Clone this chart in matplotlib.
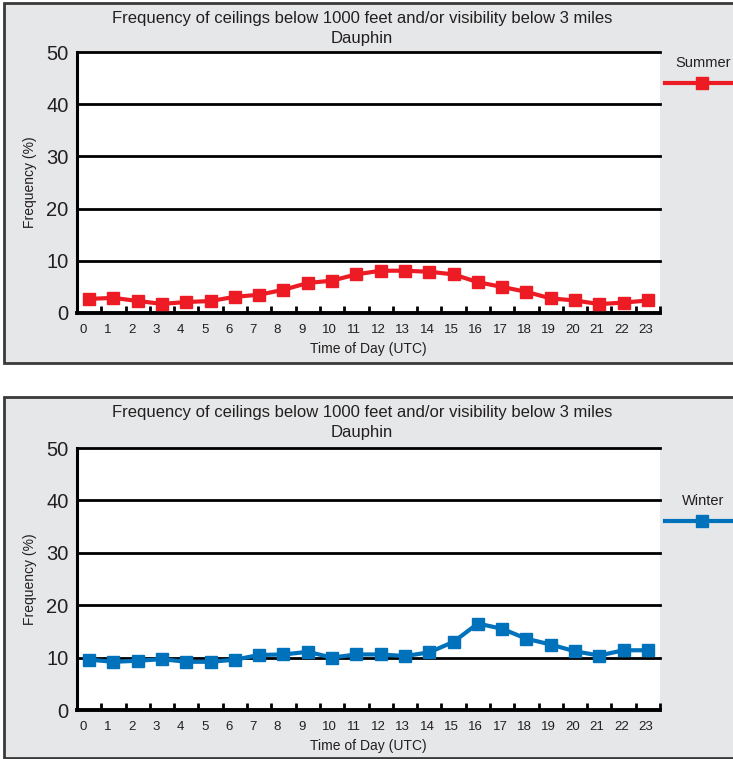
import matplotlib
matplotlib.use("Agg")
import matplotlib.pyplot as plt
from matplotlib.patches import Rectangle
from matplotlib.lines import Line2D
import matplotlib.transforms as mtransforms

plt.rcParams['font.family'] = ['Liberation Sans', 'DejaVu Sans']

hours = list(range(24))
hour_labels = [str(h) for h in hours]
y_ticks = [0, 10, 20, 30, 40, 50]

summer = [2.7, 2.9, 2.3, 1.75, 2.1, 2.3, 3.1, 3.5, 4.45, 5.75, 6.2, 7.4,
          8.1, 8.1, 7.9, 7.4, 5.9, 5.0, 4.05, 2.8, 2.4, 1.7, 2.0, 2.4]
winter = [9.6, 9.2, 9.4, 9.7, 9.2, 9.2, 9.6, 10.5, 10.6, 11.1, 10.0, 10.6,
          10.6, 10.3, 11.0, 13.0, 16.5, 15.5, 13.6, 12.5, 11.2, 10.4, 11.4, 11.4]

title_main = "Frequency of ceilings below 1000 feet and/or visibility below 3 miles"
title_station = "Dauphin"

W, H = 733, 759
fig = plt.figure(figsize=(W / 100, H / 100), dpi=100)
fig.patch.set_facecolor('white')

PANEL_BG = '#e6e7e8'
TEXT = '#231f20'


def fx(px):
    return px / W


def fy(py):
    return 1 - py / H


def draw_panel(top, bottom, ax_top, ax_bottom, values, color, name, legend_y):
    # panel frame behind the axes
    fig.patches.append(Rectangle((fx(4), fy(bottom)), fx(760) - fx(4), fy(top) - fy(bottom),
                                 transform=fig.transFigure, facecolor=PANEL_BG,
                                 edgecolor='#3a3a3a', linewidth=2, zorder=-5))
    ax = fig.add_axes([fx(77), fy(ax_bottom), fx(660) - fx(77), fy(ax_top) - fy(ax_bottom)])
    ax.set_zorder(2)
    ax.set_facecolor('white')
    ax.set_xlim(0, 24)
    ax.set_ylim(0, 50)
    for v in y_ticks[1:]:
        ax.axhline(v, color='black', linewidth=2, zorder=1, clip_on=False)
    ax.plot([h + 0.5 for h in hours], values, color=color, linewidth=3,
            marker='s', markersize=8, zorder=3, clip_on=False)
    for s in ['top', 'right']:
        ax.spines[s].set_visible(False)
    ax.spines['left'].set_linewidth(2.2)
    ax.spines['bottom'].set_linewidth(2.8)
    ax.set_yticks(y_ticks)
    ax.set_yticklabels([str(v) for v in y_ticks], fontsize=14.5, color=TEXT)
    ax.tick_params(axis='y', length=0, pad=6)
    ax.set_xticks(list(range(25)))
    ax.set_xticklabels(hour_labels + [''], fontsize=9.5, color=TEXT, ha='left')
    ax.tick_params(axis='x', direction='in', length=5, width=2, pad=8)
    offset = mtransforms.ScaledTranslation(2.5 / 100, 0, fig.dpi_scale_trans)
    for lbl in ax.get_xticklabels():
        lbl.set_transform(lbl.get_transform() + offset)
    ax.set_xlabel('Time of Day (UTC)', fontsize=10, color=TEXT, labelpad=4)
    ax.set_ylabel('Frequency (%)', fontsize=10, color=TEXT)
    ax.yaxis.set_label_coords(fx(37), 0.5,
                              transform=mtransforms.blended_transform_factory(fig.transFigure, ax.transAxes))
    fig.text(fx(362), fy(top + 16), title_main, ha='center', va='center',
             fontsize=12, color=TEXT)
    fig.text(fx(362), fy(top + 35), title_station, ha='center', va='center',
             fontsize=12, color=TEXT)
    # legend entry
    fig.text(fx(703), fy(legend_y + 1), name, ha='center', va='center', fontsize=10.5, color=TEXT)
    fig.lines.append(Line2D([fx(665), fx(740)], [fy(legend_y + 21)] * 2,
                            transform=fig.transFigure, color=color, linewidth=3))
    fig.lines.append(Line2D([fx(702)], [fy(legend_y + 21)], transform=fig.transFigure,
                            color=color, marker='s', markersize=8, linestyle='none'))
    return ax


draw_panel(3, 363, 52, 313, summer, '#ed1c24', 'Summer', 62)
draw_panel(397, 758, 448, 710, winter, '#0072bc', 'Winter', 500)

fig.savefig('out.png', dpi=100, facecolor=fig.get_facecolor())
